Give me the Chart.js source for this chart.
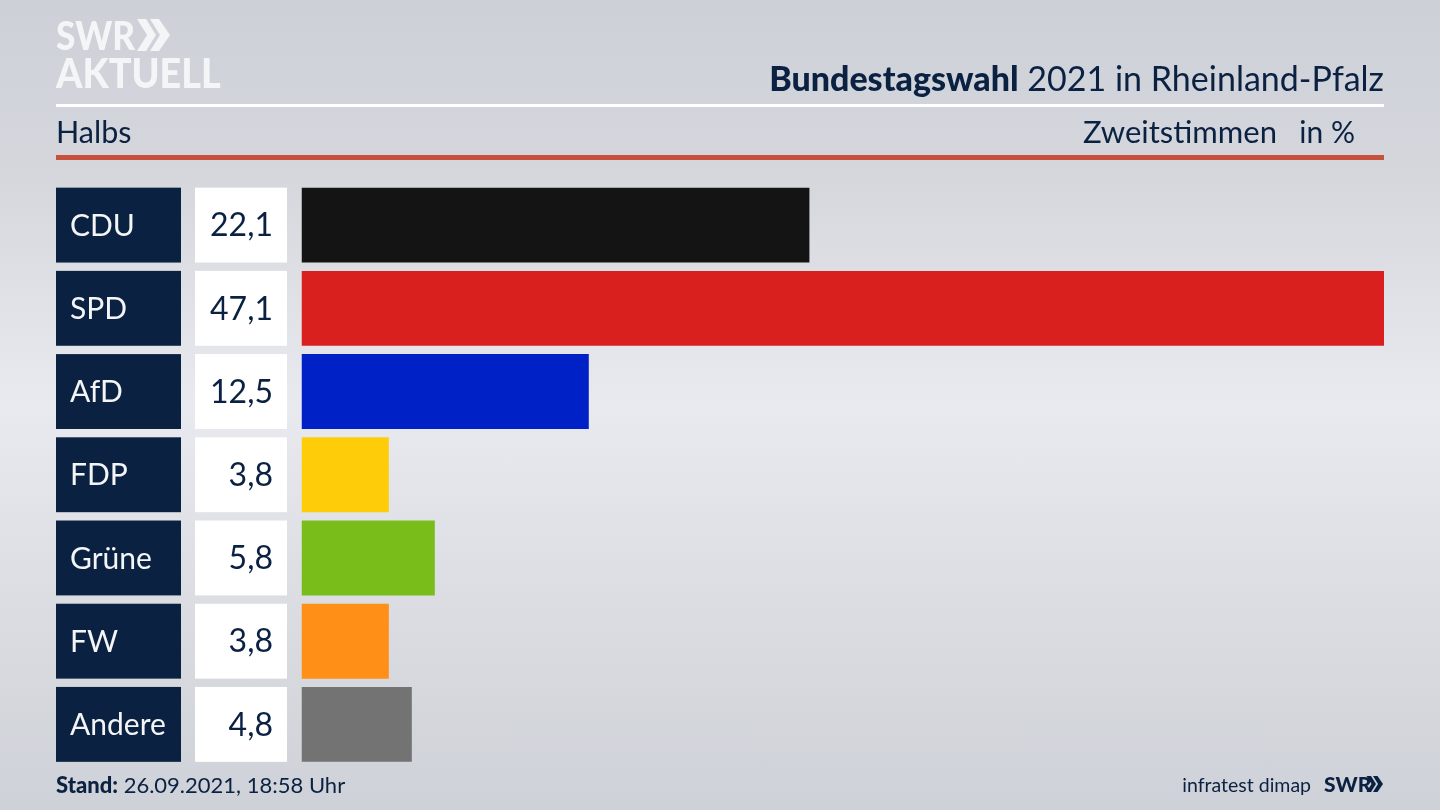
<!DOCTYPE html>
<html lang="de">
<head>
<meta charset="utf-8">
<title>Bundestagswahl 2021 in Rheinland-Pfalz</title>
<script src="https://cdn.jsdelivr.net/npm/chart.js@4"></script>
<style>
  html, body { margin: 0; padding: 0; }
  body {
    width: 1440px; height: 810px; overflow: hidden; position: relative;
    background: linear-gradient(180deg, #cdd0d7 0%, #d5d7dd 22%, #e9eaef 50%, #dcdee3 72%, #ced1d7 100%);
    font-family: Lato, sans-serif; color: #0b2142;
  }
  canvas { position: absolute; left: 0; top: 0; }
  .txt { position: absolute; white-space: nowrap; line-height: 1; }
  .rule { position: absolute; left: 56px; width: 1328px; }
  .logo { color: #f4f5f7; font-weight: 900; transform-origin: left top; }
</style>
</head>
<body>
<canvas id="chart" width="1440" height="810"></canvas>

<div class="txt logo" style="left:56px;top:16px;font-size:39px;transform:scaleX(.9)">SWR</div>
<svg style="position:absolute;left:137px;top:19px" width="34" height="34" viewBox="0 0 34 34">
  <path d="M0 0 L9 0 L19 16 L9 32 L0 32 L10 16 Z M13 0 L22 0 L33 16 L22 32 L13 32 L23 16 Z" fill="#f4f5f7"/>
</svg>
<div class="txt logo" style="left:56px;top:52px;font-size:41px;transform:scaleX(.92)">AKTUELL</div>

<div class="txt" style="right:56px;top:61px;font-size:34px"><b style="font-weight:900">Bundestagswahl</b> 2021 in Rheinland-Pfalz</div>
<div class="rule" style="top:104px;height:3px;background:#fff"></div>
<div class="txt" style="left:56px;top:116px;font-size:30.5px">Halbs</div>
<div class="txt" style="right:163px;top:116px;font-size:31px">Zweitstimmen</div>
<div class="txt" style="right:85px;top:116px;font-size:30px">in %</div>
<div class="rule" style="top:155px;height:5px;background:#c8513d"></div>

<div class="txt" style="left:56px;top:774px;font-size:22px"><b style="font-weight:900">Stand:</b> 26.09.2021, 18:58 Uhr</div>
<div class="txt" style="right:129px;top:775px;font-size:19.5px">infratest dimap</div>
<div class="txt" style="left:1324px;top:773px;font-size:21px;font-weight:900">SWR</div>
<svg style="position:absolute;left:1366px;top:776px" width="18" height="17" viewBox="0 0 34 34">
  <path d="M0 0 L9 0 L19 16 L9 32 L0 32 L10 16 Z M13 0 L22 0 L33 16 L22 32 L13 32 L23 16 Z" fill="#0b2142"/>
</svg>

<script>
const parties = ["CDU", "SPD", "AfD", "FDP", "Grüne", "FW", "Andere"];
const shares = [22.1, 47.1, 12.5, 3.8, 5.8, 3.8, 4.8];
const partyColors = ["#141414", "#d9201f", "#0021c6", "#ffcc0a", "#79bd1a", "#ff8f17", "#737373"];

// navy name boxes and white value boxes left of the bars
const rowBoxes = {
  id: "rowBoxes",
  afterDatasetsDraw(chart) {
    const { ctx, scales } = chart;
    const bars = chart.getDatasetMeta(0).data;
    ctx.save();
    ctx.textBaseline = "middle";
    parties.forEach((name, i) => {
      const yMid = scales.y.getPixelForValue(i);
      const h = bars[i].height;
      ctx.fillStyle = "#0b2142";
      ctx.fillRect(56, yMid - h / 2, 125, h);
      ctx.fillStyle = "#ffffff";
      ctx.fillRect(195, yMid - h / 2, 92, h);

      ctx.font = "30px Lato";
      ctx.textAlign = "left";
      ctx.fillStyle = "#f4f5f7";
      ctx.fillText(name, 70, yMid + 1);
      ctx.font = "32px Lato";
      ctx.textAlign = "right";
      ctx.fillStyle = "#0b2142";
      ctx.fillText(shares[i].toFixed(1).replace(".", ","), 273, yMid + 1);
    });
    ctx.restore();
  }
};

new Chart(document.getElementById("chart"), {
  type: "bar",
  data: {
    labels: parties,
    datasets: [{
      data: shares,
      backgroundColor: partyColors,
      borderWidth: 0,
      categoryPercentage: 1,
      barPercentage: 0.9
    }]
  },
  options: {
    indexAxis: "y",
    responsive: false,
    animation: false,
    layout: { padding: { left: 301.5, right: 56, top: 183.5, bottom: 44 } },
    plugins: { legend: { display: false }, tooltip: { enabled: false } },
    scales: {
      x: { display: false, min: 0, max: 47.1 },
      y: { display: false }
    }
  },
  plugins: [rowBoxes]
});
</script>
</body>
</html>
